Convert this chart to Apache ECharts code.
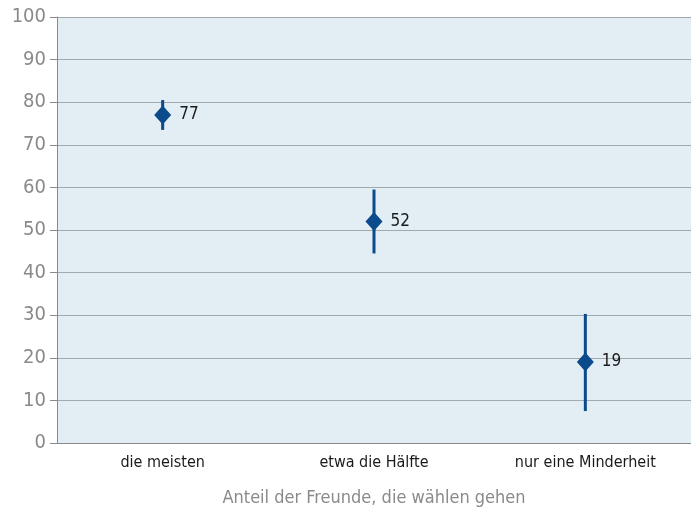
<!DOCTYPE html>
<html>
<head>
<meta charset="utf-8">
<script src="https://cdn.jsdelivr.net/npm/echarts@6/dist/echarts.min.js"></script>
<style>
  html, body { margin: 0; padding: 0; background: #fff; }
  #chart { width: 691px; height: 512px; }
</style>
</head>
<body>
<div id="chart"></div>
<script>
const categories = ['die meisten', 'etwa die Hälfte', 'nur eine Minderheit'];
const values = [77, 52, 19];
const lower = [73.5, 44.5, 7.5];
const upper = [80.5, 59.5, 30.3];
const yTicks = [0, 10, 20, 30, 40, 50, 60, 70, 80, 90, 100];

const FONT = '"Liberation Sans Narrow", "DejaVu Sans Condensed", sans-serif';
const BLUE = '#0b4a8b';

const chart = echarts.init(document.getElementById('chart'));
const errData = categories.map((c, i) => [i, lower[i], upper[i]]);

chart.setOption({
  animation: false,
  grid: {
    left: 57, right: 0, top: 17, bottom: 69,
    outerBoundsMode: 'none', containLabel: false,
    show: true, backgroundColor: '#e3eef4', borderWidth: 0
  },
  xAxis: {
    type: 'category',
    data: categories,
    name: 'Anteil der Freunde, die wählen gehen',
    nameLocation: 'middle',
    nameGap: 46,
    nameTextStyle: { color: '#8a8a8a', fontSize: 18, fontFamily: FONT },
    axisLine: { lineStyle: { color: '#8a8a8a', width: 1 } },
    axisTick: { inside: true, length: 10, lineStyle: { color: '#8a8a8a' } },
    axisLabel: { color: '#1a1a1a', fontSize: 16, fontFamily: FONT, margin: 12 }
  },
  yAxis: {
    type: 'value',
    min: 0,
    max: 100,
    interval: 10,
    axisLine: { show: true, lineStyle: { color: '#8a8a8a', width: 1 } },
    axisTick: { show: true, length: 7, lineStyle: { color: '#8a8a8a' } },
    axisLabel: {
      color: '#8a8a8a', fontSize: 20, fontFamily: FONT, margin: 11,
      formatter: v => yTicks.includes(v) ? String(v) : ''
    },
    splitLine: { lineStyle: { color: '#a3a8ab', width: 1 } }
  },
  series: [
    {
      type: 'custom',
      data: errData,
      encode: { x: 0, y: [1, 2] },
      renderItem: function (params, api) {
        const lo = api.coord([api.value(0), api.value(1)]);
        const hi = api.coord([api.value(0), api.value(2)]);
        return {
          type: 'line',
          shape: { x1: lo[0], y1: lo[1], x2: hi[0], y2: hi[1] },
          style: { stroke: BLUE, lineWidth: 3 }
        };
      },
      z: 2
    },
    {
      type: 'scatter',
      data: values,
      symbol: 'diamond',
      symbolSize: [17, 19],
      itemStyle: { color: BLUE, opacity: 1 },
      label: {
        show: true,
        position: 'right',
        distance: 8,
        color: '#1a1a1a',
        fontSize: 17,
        fontFamily: FONT
      },
      z: 3
    }
  ]
});
</script>
</body>
</html>
